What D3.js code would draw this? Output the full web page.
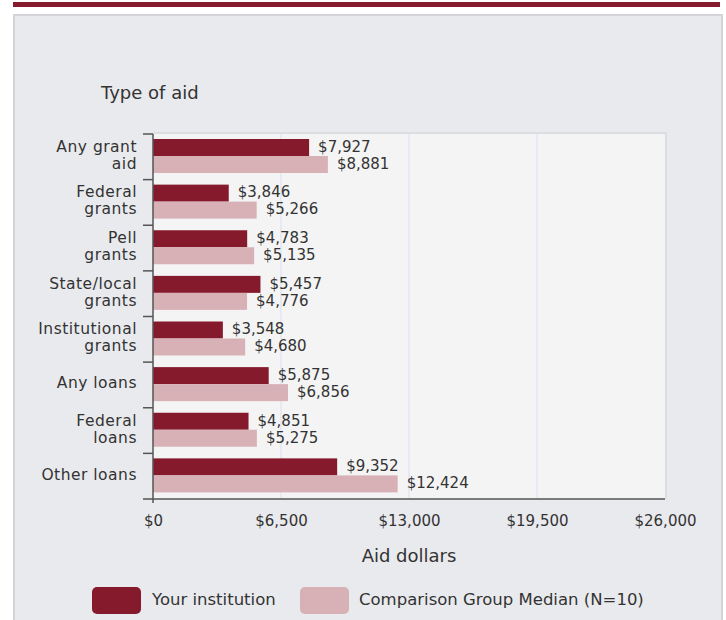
<!DOCTYPE html>
<html>
<head>
<meta charset="utf-8">
<script src="https://cdn.jsdelivr.net/npm/d3@7"></script>
<style>
  html, body { margin: 0; padding: 0; background: #ffffff; }
  svg { display: block; }
  text { font-family: "DejaVu Sans", Verdana, sans-serif; fill: #333; }
</style>
</head>
<body>
<svg id="chart" width="726" height="620"></svg>
<script>
// ---- data ----
const categories = ["Any grant aid", "Federal grants", "Pell grants", "State/local grants",
                    "Institutional grants", "Any loans", "Federal loans", "Other loans"];
const categoryLines = [["Any grant", "aid"], ["Federal", "grants"], ["Pell", "grants"],
                       ["State/local", "grants"], ["Institutional", "grants"], ["Any loans"],
                       ["Federal", "loans"], ["Other loans"]];
const seriesNames = ["Your institution", "Comparison Group Median (N=10)"];
const yourInstitution = [7927, 3846, 4783, 5457, 3548, 5875, 4851, 9352];
const comparisonMedian = [8881, 5266, 5135, 4776, 4680, 6856, 5275, 12424];
const xTickValues = [0, 6500, 13000, 19500, 26000];
const seriesColors = ["#851a2d", "#d8b1b7"];

// ---- layout ----
const svg = d3.select("#chart");
const plot = { left: 153, right: 665, top: 134, bottom: 499 };

// top accent bar and panel
svg.append("rect").attr("x", 13).attr("y", 2).attr("width", 707).attr("height", 5).attr("fill", "#861b2e");
svg.append("rect").attr("x", 14).attr("y", 15).attr("width", 708).attr("height", 620)
  .attr("fill", "#e9eaee").attr("stroke", "#d3d4d7").attr("stroke-width", 2);

const x = d3.scaleLinear().domain([0, 26000]).range([plot.left, plot.right]);
const y = d3.scaleBand().domain(categories).range([plot.top, plot.bottom]).padding(0);
const yInner = d3.scaleBand().domain(seriesNames).range([5, 39]).padding(0);

// plot background
svg.append("rect").attr("x", plot.left).attr("y", plot.top)
  .attr("width", plot.right - plot.left).attr("height", plot.bottom - plot.top)
  .attr("fill", "#f4f4f4");
// subtle border top/right
svg.append("path")
  .attr("d", `M${plot.left},${plot.top - 1}H${plot.right + 1}V${plot.bottom}`)
  .attr("fill", "none").attr("stroke", "#dcdde0").attr("stroke-width", 2);

// gridlines
svg.append("g").selectAll("line").data(xTickValues.filter(d => d > 0 && d < 26000)).join("line")
  .attr("x1", d => x(d)).attr("x2", d => x(d))
  .attr("y1", plot.top).attr("y2", plot.bottom)
  .attr("stroke", "#d9dfeb").attr("stroke-width", 1);

// bars
const rows = categories.map((c, i) => ({ cat: c, values: [yourInstitution[i], comparisonMedian[i]] }));
const groups = svg.append("g").selectAll("g").data(rows).join("g")
  .attr("transform", d => `translate(0,${y(d.cat)})`);

groups.selectAll("rect").data(d => d.values.map((v, j) => ({ s: seriesNames[j], v, j }))).join("rect")
  .attr("x", x(0))
  .attr("y", d => yInner(d.s))
  .attr("width", d => x(d.v) - x(0))
  .attr("height", yInner.bandwidth())
  .attr("fill", d => seriesColors[d.j]);

groups.selectAll("text").data(d => d.values.map((v, j) => ({ s: seriesNames[j], v, j }))).join("text")
  .attr("x", d => x(d.v) + 9)
  .attr("y", d => yInner(d.s) + yInner.bandwidth() / 2 - 1)
  .attr("dy", "0.35em")
  .attr("font-size", "15px")
  .text(d => "$" + d3.format(",")(d.v));

// left axis
const axisColor = "#555";
svg.append("line").attr("x1", plot.left).attr("x2", plot.left)
  .attr("y1", plot.top).attr("y2", plot.bottom)
  .attr("stroke", axisColor).attr("stroke-width", 1.5);
svg.append("g").selectAll("line").data(categories).join("line")
  .attr("x1", plot.left - 10).attr("x2", plot.left)
  .attr("y1", d => y(d)).attr("y2", d => y(d))
  .attr("stroke", axisColor).attr("stroke-width", 1.5);

// category labels
const catLabels = svg.append("g").selectAll("text").data(categories).join("text")
  .attr("text-anchor", "end")
  .attr("font-size", "15.5px")
  .attr("letter-spacing", "0.5px")
  .attr("transform", d => `translate(137,${y(d) + y.bandwidth() / 2})`);
catLabels.each(function(d, i) {
  const lines = categoryLines[i];
  const n = lines.length;
  d3.select(this).selectAll("tspan").data(lines).join("tspan")
    .attr("x", 0)
    .attr("y", (l, k) => (k - (n - 1) / 2) * 17 - 2)
    .attr("dy", "0.35em")
    .text(l => l);
});

// bottom axis
const xAxis = d3.axisBottom(x).tickValues(xTickValues)
  .tickFormat(d => "$" + d3.format(",")(d)).tickSize(0).tickPadding(0);
const gx = svg.append("g").attr("transform", `translate(0,${plot.bottom})`).call(xAxis);
gx.select(".domain").remove();
gx.selectAll("text").attr("y", 22).attr("dy", "0.35em")
  .attr("font-size", "15px").attr("font-family", "DejaVu Sans, Verdana, sans-serif").attr("fill", "#333");
svg.append("line").attr("x1", plot.left - 10).attr("x2", plot.right)
  .attr("y1", plot.bottom).attr("y2", plot.bottom)
  .attr("stroke", axisColor).attr("stroke-width", 1.5);
svg.append("line").attr("x1", plot.left).attr("x2", plot.left)
  .attr("y1", plot.bottom).attr("y2", plot.bottom + 4)
  .attr("stroke", axisColor).attr("stroke-width", 1.5);

// titles
svg.append("text").attr("x", 101).attr("y", 93).attr("dy", "0.35em")
  .attr("font-size", "18px").text("Type of aid");
svg.append("text").attr("x", (plot.left + plot.right) / 2).attr("y", 556).attr("dy", "0.35em")
  .attr("text-anchor", "middle").attr("font-size", "18px").text("Aid dollars");

// legend
const legendItems = [{ name: seriesNames[0], sx: 92, tx: 152 }, { name: seriesNames[1], sx: 300, tx: 359 }];
const lg = svg.append("g").selectAll("g").data(legendItems).join("g");
lg.append("rect").attr("x", d => d.sx).attr("y", 587).attr("width", 49).attr("height", 27)
  .attr("rx", 5).attr("fill", (d, i) => seriesColors[i]);
lg.append("text").attr("x", d => d.tx).attr("y", 599).attr("dy", "0.35em")
  .attr("font-size", "16.5px").text(d => d.name);
</script>
</body>
</html>
